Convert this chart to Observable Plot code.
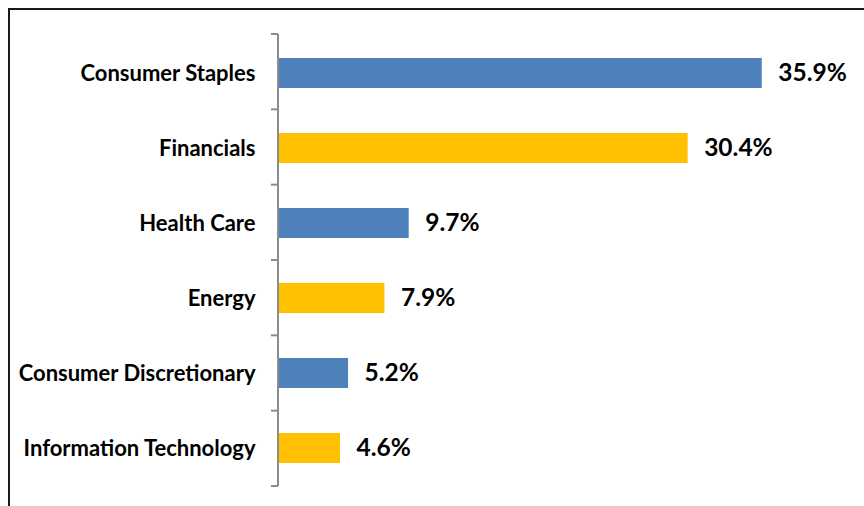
<!DOCTYPE html>
<html>
<head>
<meta charset="utf-8">
<script src="https://cdn.jsdelivr.net/npm/d3@7"></script>
<script src="https://cdn.jsdelivr.net/npm/@observablehq/plot@0.6"></script>
<style>
  html, body { margin: 0; padding: 0; background: #fff; overflow: hidden; }
  #wrap { position: relative; width: 864px; height: 506px; overflow: hidden; }
  #frame { position: absolute; left: 8px; top: 8px; width: 1000px; height: 1000px;
           border-top: 2px solid #1a1a1a; border-left: 2px solid #1a1a1a; pointer-events: none; }
  #chart { position: absolute; left: 0; top: 0; }
</style>
</head>
<body>
<div id="wrap"><div id="chart"></div><div id="frame"></div></div>
<script>
const categories = ["Consumer Staples", "Financials", "Health Care", "Energy", "Consumer Discretionary", "Information Technology"];
const values = [35.9, 30.4, 9.7, 7.9, 5.2, 4.6];
const valueLabels = ["35.9%", "30.4%", "9.7%", "7.9%", "5.2%", "4.6%"];
const barColors = ["#4F81BD", "#FFC000", "#4F81BD", "#FFC000", "#4F81BD", "#FFC000"];

const data = categories.map((c, i) => ({category: c, value: values[i], label: valueLabels[i], color: barColors[i]}));

const FONT = "Lato, 'Open Sans', sans-serif";

function categoryTicks(index, scales, vals, dimensions) {
  const {height, marginTop, marginBottom} = dimensions;
  const n = categories.length;
  const step = (height - marginTop - marginBottom) / n;
  const x0 = scales.x(0);
  const g = d3.create("svg:g");
  g.append("line")
    .attr("x1", x0).attr("x2", x0)
    .attr("y1", marginTop).attr("y2", height - marginBottom)
    .attr("stroke", "#8c8c8c").attr("stroke-width", 2);
  for (let k = 0; k <= n; k++) {
    const yy = marginTop + k * step;
    g.append("line")
      .attr("x1", x0 - 7).attr("x2", x0)
      .attr("y1", yy).attr("y2", yy)
      .attr("stroke", "#8c8c8c").attr("stroke-width", 2);
  }
  return g.node();
}

const chart = Plot.plot({
  width: 864,
  height: 506,
  marginLeft: 278,
  marginRight: 47,
  marginTop: 34,
  marginBottom: 20,
  style: {background: "transparent", fontFamily: FONT},
  x: {domain: [0, 40], axis: null},
  y: {domain: categories, paddingInner: 0.6, paddingOuter: 0.3, axis: null},
  marks: [
    Plot.barX(data, {x: "value", y: "category", fill: d => d.color}),
    Plot.text(data, {x: 0, y: "category", text: "category", textAnchor: "end", dx: -23,
      fontSize: 22, fontWeight: "bold", fill: "#000"}),
    Plot.text(data, {x: "value", y: "category", text: "label", textAnchor: "start", dx: 16,
      fontSize: 24.5, fontWeight: "bold", fill: "#000"}),
    categoryTicks
  ]
});
document.getElementById("chart").appendChild(chart);
</script>
</body>
</html>
